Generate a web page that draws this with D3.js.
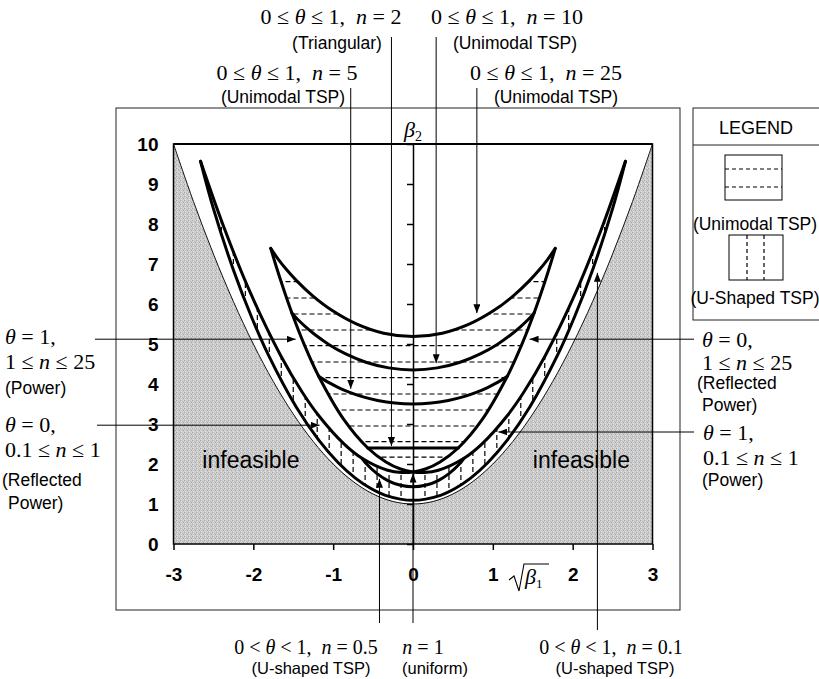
<!DOCTYPE html>
<html>
<head>
<meta charset="utf-8">
<script src="https://cdn.jsdelivr.net/npm/d3@7"></script>
<style>
  body { margin: 0; background: #fff; }
  svg { display: block; }
  text { white-space: pre; }
</style>
</head>
<body>
<svg id="chart" width="819" height="679"></svg>
<script>
// ---------- data: (sqrt(beta1), beta2) moment-ratio diagram ----------
const xTickValues = [-3, -2, -1, 0, 1, 2, 3];
const yTickValues = [0, 1, 2, 3, 4, 5, 6, 7, 8, 9, 10];

// lower limit of every distribution: beta2 = beta1 + 1
const limitSkew = [-3, -2.75, -2.5, -2.25, -2, -1.75, -1.5, -1.25, -1, -0.75, -0.5, -0.25, 0,
                   0.25, 0.5, 0.75, 1, 1.25, 1.5, 1.75, 2, 2.25, 2.5, 2.75, 3];
const limitKurt = [10, 8.5625, 7.25, 6.0625, 5, 4.0625, 3.25, 2.5625, 2, 1.5625, 1.25, 1.0625, 1,
                   1.0625, 1.25, 1.5625, 2, 2.5625, 3.25, 4.0625, 5, 6.0625, 7.25, 8.5625, 10];

// power family, n = 0.1 ... 25
const powerN = [0.1, 0.12, 0.15, 0.2, 0.25, 0.3, 0.4, 0.5, 0.7, 0.85, 1, 1.2, 1.5, 2, 3, 5, 7, 10, 15, 20, 25];
// theta = 0 (reflected power)
const reflectedSkew = [-2.661, -2.371, -2.043, -1.658, -1.385, -1.175, -0.865, -0.639, -0.318, -0.143, 0,
                       0.156, 0.339, 0.566, 0.861, 1.183, 1.361, 1.517, 1.656, 1.733, 1.782];
const reflectedKurt = [9.567, 7.930, 6.307, 4.714, 3.787, 3.193, 2.503, 2.143, 1.843, 1.787, 1.8,
                       1.875, 2.051, 2.4, 3.095, 4.2, 4.979, 5.776, 6.581, 7.066, 7.390];
// theta = 1 (power)
const powerSkew = [2.661, 2.371, 2.043, 1.658, 1.385, 1.175, 0.865, 0.639, 0.318, 0.143, 0,
                   -0.156, -0.339, -0.566, -0.861, -1.183, -1.361, -1.517, -1.656, -1.733, -1.782];
const powerKurt = [9.567, 7.930, 6.307, 4.714, 3.787, 3.193, 2.503, 2.143, 1.843, 1.787, 1.8,
                   1.875, 2.051, 2.4, 3.095, 4.2, 4.979, 5.776, 6.581, 7.066, 7.390];

// two-sided power curves, theta running from 0 to 1 for a fixed n
const tsp25Skew = [1.782, 1.773, 1.744, 1.687, 1.593, 1.453, 1.260, 1.011, 0.710, 0.367, 0,
                   -0.367, -0.710, -1.011, -1.260, -1.453, -1.593, -1.687, -1.744, -1.773, -1.782];
const tsp25Kurt = [7.390, 7.364, 7.277, 7.118, 6.881, 6.572, 6.210, 5.835, 5.502, 5.270, 5.187,
                   5.270, 5.502, 5.835, 6.210, 6.572, 6.881, 7.118, 7.277, 7.364, 7.390];

const tsp10Skew = [1.517, 1.509, 1.482, 1.430, 1.345, 1.222, 1.055, 0.843, 0.590, 0.304, 0,
                   -0.304, -0.590, -0.843, -1.055, -1.222, -1.345, -1.430, -1.482, -1.509, -1.517];
const tsp10Kurt = [5.776, 5.757, 5.696, 5.587, 5.428, 5.224, 4.990, 4.753, 4.545, 4.403, 4.352,
                   4.403, 4.545, 4.753, 4.990, 5.224, 5.428, 5.587, 5.696, 5.757, 5.776];

const tsp5Skew = [1.183, 1.176, 1.152, 1.107, 1.035, 0.934, 0.801, 0.636, 0.442, 0.227, 0,
                  -0.227, -0.442, -0.636, -0.801, -0.934, -1.035, -1.107, -1.152, -1.176, -1.183];
const tsp5Kurt = [4.200, 4.189, 4.155, 4.097, 4.014, 3.911, 3.797, 3.684, 3.588, 3.523, 3.500,
                  3.523, 3.588, 3.684, 3.797, 3.911, 4.014, 4.097, 4.155, 4.189, 4.200];

// n = 2: triangular, constant kurtosis
const tsp2Skew = [-0.566, 0.566];
const tsp2Kurt = [2.4, 2.4];

const tsp05Skew = [-0.639, -0.578, -0.455, -0.310, -0.156, 0, 0.156, 0.310, 0.455, 0.578, 0.639];
const tsp05Kurt = [2.143, 1.993, 1.765, 1.580, 1.467, 1.429, 1.467, 1.580, 1.765, 1.993, 2.143];

const tsp01Skew = [-2.661, -2.500, -2.254, -2.020, -1.812, -1.463, -1.178, -0.936, -0.722, -0.527, -0.345, 0,
                   0.345, 0.527, 0.722, 0.936, 1.178, 1.463, 1.812, 2.020, 2.254, 2.500, 2.661];
const tsp01Kurt = [9.567, 8.385, 6.877, 5.662, 4.726, 3.424, 2.590, 2.031, 1.648, 1.387, 1.217, 1.091,
                   1.217, 1.387, 1.648, 2.031, 2.590, 3.424, 4.726, 5.662, 6.877, 8.385, 9.567];

// hatch positions of the two shaded families
const unimodalHatchKurt = [2.17, 2.56, 2.95, 3.35, 3.75, 4.16, 4.55, 4.96, 5.35, 5.75, 6.15, 6.56];
const uShapedHatchSkew = [-2.4, -2.25, -2.1, -1.95, -1.8, -1.65, -1.5, -1.35, -1.2, -1.05, -0.9, -0.75,
                          -0.6, -0.45, -0.3, -0.15, 0.15, 0.3, 0.45, 0.6, 0.75, 0.9, 1.05, 1.2, 1.35,
                          1.5, 1.65, 1.8, 1.95, 2.1, 2.25, 2.4];

// ---------- setup ----------
const SANS = "Arial, 'Liberation Sans', sans-serif";
const SERIF = "'Times New Roman', 'Liberation Serif', serif";
const svg = d3.select("#chart");

const x = d3.scaleLinear().domain([-3, 3]).range([173.5, 652.5]);
const y = d3.scaleLinear().domain([0, 10]).range([544, 144]);

const zip = (xs, ys) => xs.map((v, i) => [v, ys[i]]);
const line = d3.line().x(d => x(d[0])).y(d => y(d[1])).curve(d3.curveCatmullRom.alpha(0.5));
const join = (...segs) => segs.map((s, i) => i === 0 ? line(s) : line(s).replace(/^M/, "L")).join("") + "Z";

const limitPts = zip(limitSkew, limitKurt);
const reflectedPts = zip(reflectedSkew, reflectedKurt);
const powerPts = zip(powerSkew, powerKurt);
const iUnif = powerN.indexOf(1);
const tsp25 = zip(tsp25Skew, tsp25Kurt);
const tsp10 = zip(tsp10Skew, tsp10Kurt);
const tsp5 = zip(tsp5Skew, tsp5Kurt);
const tsp2 = zip(tsp2Skew, tsp2Kurt);
const tsp05 = zip(tsp05Skew, tsp05Kurt);
const tsp01 = zip(tsp01Skew, tsp01Kurt);

const defs = svg.append("defs");

// stippled grey for the infeasible area
const pat = defs.append("pattern").attr("id", "stipple")
  .attr("width", 4).attr("height", 4).attr("patternUnits", "userSpaceOnUse");
pat.append("rect").attr("width", 4).attr("height", 4).attr("fill", "#cbcbcb");
[[0, 0, "#a6a6a6"], [2, 1, "#b4b4b4"], [1, 3, "#e4e4e4"], [3, 2, "#ababab"], [1, 1, "#dedede"], [3, 0, "#d9d9d9"]]
  .forEach(([px, py, c]) => pat.append("rect").attr("x", px).attr("y", py).attr("width", 1).attr("height", 1).attr("fill", c));

defs.append("marker").attr("id", "head")
  .attr("viewBox", "0 0 10 10").attr("refX", 10).attr("refY", 5)
  .attr("markerWidth", 9).attr("markerHeight", 7).attr("markerUnits", "userSpaceOnUse")
  .attr("preserveAspectRatio", "none").attr("orient", "auto")
  .append("path").attr("d", "M0,0L10,5L0,10Z").attr("fill", "#000");

// unimodal region: power arms for n >= 1 closed by the n = 25 curve
defs.append("clipPath").attr("id", "clipUnimodal").append("path")
  .attr("d", join(reflectedPts.slice(iUnif), tsp25, powerPts.slice(iUnif).reverse()));
// U-shaped region: power arms for n <= 1 closed by the n = 0.1 curve
defs.append("clipPath").attr("id", "clipUshaped").append("path")
  .attr("d", join(reflectedPts.slice(0, iUnif + 1), powerPts.slice(0, iUnif + 1).reverse(), tsp01.slice().reverse()));

// ---------- frames ----------
svg.append("rect").attr("x", 116).attr("y", 108).attr("width", 564).attr("height", 502)
  .attr("fill", "none").attr("stroke", "#222").attr("stroke-width", 1);

// ---------- infeasible area ----------
svg.append("path")
  .attr("d", d3.area().x(d => x(d[0])).y0(y(0)).y1(d => y(d[1])).curve(d3.curveCatmullRom.alpha(0.5))(limitPts))
  .attr("fill", "url(#stipple)");
svg.append("path").attr("d", line(limitPts))
  .attr("fill", "none").attr("stroke", "#111").attr("stroke-width", 1);

// ---------- hatching ----------
svg.append("g").attr("clip-path", "url(#clipUnimodal)")
  .selectAll("line").data(unimodalHatchKurt).join("line")
  .attr("x1", x(-3)).attr("x2", x(3)).attr("y1", d => y(d)).attr("y2", d => y(d))
  .attr("stroke", "#000").attr("stroke-width", 1.2).attr("stroke-dasharray", "5,3");

svg.append("g").attr("clip-path", "url(#clipUshaped)")
  .selectAll("line").data(uShapedHatchSkew).join("line")
  .attr("x1", d => x(d)).attr("x2", d => x(d)).attr("y1", y(0)).attr("y2", y(10))
  .attr("stroke", "#000").attr("stroke-width", 1.2).attr("stroke-dasharray", "5,3");

// ---------- axes ----------
const gx = svg.append("g").attr("transform", `translate(0,${y(0)})`)
  .call(d3.axisBottom(x).tickValues(xTickValues).tickSize(6).tickPadding(18).tickFormat(d => String(d)));
gx.select(".domain").remove();
gx.selectAll("line").attr("stroke", "#000").attr("stroke-width", 1.5);
gx.selectAll("text").attr("font-family", SANS).attr("font-size", 19).attr("font-weight", "bold").attr("fill", "#000");

const gyl = svg.append("g").attr("transform", `translate(${x(-3)},0)`)
  .call(d3.axisLeft(y).tickValues(yTickValues).tickSize(0).tickPadding(15).tickFormat(d => String(d)));
gyl.select(".domain").remove();
gyl.selectAll("text").attr("font-family", SANS).attr("font-size", 19).attr("font-weight", "bold").attr("fill", "#000");

const gy0 = svg.append("g").attr("transform", `translate(${x(0)},0)`)
  .call(d3.axisLeft(y).tickValues(yTickValues).tickSizeInner(6).tickSizeOuter(0).tickFormat(""));
gy0.selectAll("line, path").attr("stroke", "#000").attr("stroke-width", 1.5);

svg.append("rect").attr("x", x(-3)).attr("y", y(10)).attr("width", x(3) - x(-3)).attr("height", y(0) - y(10))
  .attr("fill", "none").attr("stroke", "#000").attr("stroke-width", 1.5);
svg.append("line").attr("x1", x(-3)).attr("x2", x(3)).attr("y1", y(10)).attr("y2", y(10))
  .attr("stroke", "#000").attr("stroke-width", 2.2);

// ---------- curves ----------
[reflectedPts, powerPts, tsp25, tsp10, tsp5, tsp2, tsp05, tsp01].forEach(pts => {
  svg.append("path").attr("d", line(pts)).attr("fill", "none")
    .attr("stroke", "#000").attr("stroke-width", 3).attr("stroke-linejoin", "round").attr("stroke-linecap", "round");
});

// ---------- arrows ----------
const arrow = (x1, y1, x2, y2) => svg.append("line")
  .attr("x1", x1).attr("y1", y1).attr("x2", x2).attr("y2", y2)
  .attr("stroke", "#000").attr("stroke-width", 1).attr("marker-end", "url(#head)");

arrow(x(-0.78), 88, x(-0.78), y(3.88));
arrow(x(-0.27), 37, x(-0.27), y(2.45));
arrow(x(0.29), 37, x(0.29), y(4.52));
arrow(x(0.80), 88, x(0.80), y(5.77));

arrow(x(-0.42), 623, x(-0.42), y(1.63));
arrow(x(0), 623, x(0), y(1.76));
arrow(x(2.31), 630, x(2.31), y(6.78));

arrow(95, y(5.12), x(-1.47), y(5.12));
arrow(97, y(2.97), x(-1.17), y(2.97));
arrow(694, y(5.12), x(1.46), y(5.12));
arrow(694, y(2.80), x(1.07), y(2.80));

// ---------- text ----------
function mathText(px, py, parts, anchor, size) {
  const t = svg.append("text").attr("x", px).attr("y", py)
    .attr("font-family", SERIF).attr("font-size", size || 22).attr("fill", "#000")
    .attr("text-anchor", anchor || "start");
  parts.forEach(([s, it]) => t.append("tspan").text(s).attr("font-style", it ? "italic" : "normal"));
  return t;
}
function sansText(px, py, s, anchor, size) {
  return svg.append("text").attr("x", px).attr("y", py)
    .attr("font-family", SANS).attr("font-size", size || 17.5).attr("fill", "#000")
    .attr("text-anchor", anchor || "start").text(s);
}
const thetaLine = (rel, n) => [["0 " + rel + " ", 0], ["θ", 1], [" " + rel + " 1,  ", 0], ["n", 1], [" = " + n, 0]];

// top
mathText(331, 24, thetaLine("≤", "2"), "middle");
sansText(337, 49, "(Triangular)", "middle");
mathText(507, 24, thetaLine("≤", "10"), "middle");
sansText(515, 49, "(Unimodal TSP)", "middle");
mathText(287, 80, thetaLine("≤", "5"), "middle");
sansText(283, 103, "(Unimodal TSP)", "middle");
mathText(546, 80, thetaLine("≤", "25"), "middle");
sansText(556, 103, "(Unimodal TSP)", "middle");

// left
mathText(5, 344, [["θ", 1], [" = 1,", 0]]);
mathText(5, 369, [["1 ≤ ", 0], ["n", 1], [" ≤ 25", 0]]);
sansText(5, 394, "(Power)");
mathText(5, 432, [["θ", 1], [" = 0,", 0]]);
mathText(5, 457, [["0.1 ≤ ", 0], ["n", 1], [" ≤ 1", 0]]);
sansText(2, 486, "(Reflected");
sansText(8, 509, "Power)");

// right
mathText(702, 347, [["θ", 1], [" = 0,", 0]]);
mathText(702, 370, [["1 ≤ ", 0], ["n", 1], [" ≤ 25", 0]]);
sansText(697, 389, "(Reflected");
sansText(702, 411, "Power)");
mathText(703, 440, [["θ", 1], [" = 1,", 0]]);
mathText(703, 465, [["0.1 ≤ ", 0], ["n", 1], [" ≤ 1", 0]]);
sansText(702, 486, "(Power)");

// bottom
mathText(306, 654, thetaLine("<", "0.5"), "middle", 20);
sansText(311, 674, "(U-shaped TSP)", "middle", 16.5);
mathText(423, 654, [["n", 1], [" = 1", 0]], "middle", 20);
sansText(435, 674, "(uniform)", "middle", 16.5);
mathText(611, 654, thetaLine("<", "0.1"), "middle", 20);
sansText(615, 674, "(U-shaped TSP)", "middle", 16.5);

// infeasible labels
sansText(x(-2.03), y(2.1) + 8, "infeasible", "middle", 23);
sansText(x(2.11), y(2.1) + 8, "infeasible", "middle", 23);

// axis titles
const b2 = svg.append("text").attr("x", x(0)).attr("y", 137)
  .attr("font-family", SERIF).attr("font-size", 22).attr("text-anchor", "middle");
b2.append("tspan").text("β").attr("font-style", "italic");
b2.append("tspan").text("2").attr("font-size", 14).attr("dy", 4);

svg.append("path").attr("d", "M509,580 L514,576 L519,591 L524,564 L549,564")
  .attr("fill", "none").attr("stroke", "#000").attr("stroke-width", 1.1);
const b1 = svg.append("text").attr("x", 525).attr("y", 584)
  .attr("font-family", SERIF).attr("font-size", 22);
b1.append("tspan").text("β").attr("font-style", "italic");
b1.append("tspan").text("1").attr("font-size", 13).attr("dy", 4);

// ---------- legend ----------
const lg = svg.append("g");
lg.append("rect").attr("x", 693).attr("y", 108).attr("width", 140).attr("height", 212)
  .attr("fill", "#fff").attr("stroke", "#222").attr("stroke-width", 1);
lg.append("line").attr("x1", 693).attr("x2", 833).attr("y1", 145).attr("y2", 145)
  .attr("stroke", "#222").attr("stroke-width", 1);
lg.append("text").attr("x", 756).attr("y", 134).attr("text-anchor", "middle")
  .attr("font-family", SANS).attr("font-size", 18).text("LEGEND");

lg.append("rect").attr("x", 725).attr("y", 155).attr("width", 57).attr("height", 45)
  .attr("fill", "#fff").attr("stroke", "#000").attr("stroke-width", 1);
[169, 187].forEach(v => lg.append("line").attr("x1", 725).attr("x2", 782).attr("y1", v).attr("y2", v)
  .attr("stroke", "#000").attr("stroke-width", 1.2).attr("stroke-dasharray", "4,3"));
lg.append("text").attr("x", 755).attr("y", 230).attr("text-anchor", "middle")
  .attr("font-family", SANS).attr("font-size", 17.5).text("(Unimodal TSP)");

lg.append("rect").attr("x", 729).attr("y", 235).attr("width", 54).attr("height", 45)
  .attr("fill", "#fff").attr("stroke", "#000").attr("stroke-width", 1);
[747, 764].forEach(v => lg.append("line").attr("x1", v).attr("x2", v).attr("y1", 235).attr("y2", 280)
  .attr("stroke", "#000").attr("stroke-width", 1.2).attr("stroke-dasharray", "4,3"));
lg.append("text").attr("x", 755).attr("y", 304).attr("text-anchor", "middle")
  .attr("font-family", SANS).attr("font-size", 17.5).text("(U-Shaped TSP)");
</script>
</body>
</html>
